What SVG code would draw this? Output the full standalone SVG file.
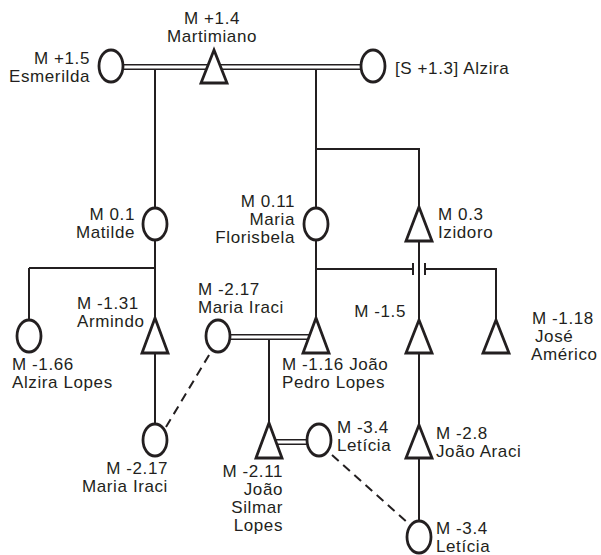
<svg xmlns="http://www.w3.org/2000/svg" width="601" height="555" viewBox="0 0 601 555">
<style>
.t{font-family:"Liberation Sans",Arial,sans-serif;font-size:17px;letter-spacing:0.6px;fill:#231f20}
.e{text-anchor:end}
.m{text-anchor:middle}
.ln{stroke:#231f20;stroke-width:2;fill:none}
.dbo{stroke:#231f20;stroke-width:6;fill:none}
.dbi{stroke:#fff;stroke-width:3;fill:none}
.dash{stroke:#231f20;stroke-width:2;fill:none;stroke-dasharray:9 6}
.nd{fill:#fff;stroke:#231f20;stroke-width:2.8;stroke-linejoin:miter}
</style>
<rect width="601" height="555" fill="#fff"/>
<g id="connectors">
<line class="dbo" x1="111" y1="67" x2="373" y2="67"/>
<line class="dbi" x1="111" y1="67" x2="373" y2="67"/>
<line class="dbo" x1="218" y1="337" x2="316" y2="337"/>
<line class="dbi" x1="218" y1="337" x2="316" y2="337"/>
<line class="dbo" x1="269" y1="442" x2="319" y2="442"/>
<line class="dbi" x1="269" y1="442" x2="319" y2="442"/>
<path class="ln" d="M155 69.5V208M316 69.5V208M316 149H419V207M155 240V318M29 268H155M29 268V320M155 353V424M316 240V318M316 269H413M413 263V275M425 263V275M425 269H496V320M419 241V320M419 353V425M419 458V521M269 339.5V423"/>
<line class="dash" x1="166" y1="427" x2="212" y2="350"/>
<line class="dash" x1="332" y1="455" x2="409" y2="524"/>
</g>
<g id="esmerilda"><ellipse class="nd" cx="111" cy="66" rx="12" ry="16"/><text class="t e" x="90" y="64">M +1.5</text><text class="t e" x="90" y="82">Esmerilda</text></g>
<g id="martimiano"><polygon class="nd" points="214,50 227,83 201,83"/><text class="t m" x="212" y="24">M +1.4</text><text class="t m" x="212" y="42">Martimiano</text></g>
<g id="alzira"><ellipse class="nd" cx="373" cy="66" rx="12" ry="16"/><text class="t" x="395" y="74">[S +1.3] Alzira</text></g>
<g id="matilde"><ellipse class="nd" cx="155" cy="224" rx="12" ry="16"/><text class="t e" x="135" y="220">M 0.1</text><text class="t e" x="135" y="238">Matilde</text></g>
<g id="maria-florisbela"><ellipse class="nd" cx="316" cy="224" rx="12" ry="16"/><text class="t e" x="295" y="207">M 0.11</text><text class="t e" x="295" y="225">Maria</text><text class="t e" x="295" y="243">Florisbela</text></g>
<g id="izidoro"><polygon class="nd" points="419,207 432,241 406,241"/><text class="t" x="438" y="220">M 0.3</text><text class="t" x="438" y="238">Izidoro</text></g>
<g id="alzira-lopes"><ellipse class="nd" cx="29" cy="336" rx="12" ry="16"/><text class="t" x="12" y="370">M -1.66</text><text class="t" x="12" y="388">Alzira Lopes</text></g>
<g id="armindo"><polygon class="nd" points="155,318 168,353 142,353"/><text class="t" x="77" y="309">M -1.31</text><text class="t" x="77" y="327">Armindo</text></g>
<g id="maria-iraci-1"><ellipse class="nd" cx="218" cy="336" rx="12" ry="16"/><text class="t" x="198" y="295">M -2.17</text><text class="t" x="198" y="313">Maria Iraci</text></g>
<g id="joao-pedro-lopes"><polygon class="nd" points="316,318 329,353 303,353"/><text class="t" x="282" y="370">M -1.16 João</text><text class="t" x="282" y="388">Pedro Lopes</text></g>
<g id="m-1-5"><polygon class="nd" points="419,320 432,353 406,353"/><text class="t e" x="406" y="317">M -1.5</text></g>
<g id="jose-americo"><polygon class="nd" points="496,320 509,353 483,353"/><text class="t" x="532" y="324">M -1.18</text><text class="t" x="535" y="342">José</text><text class="t" x="531" y="360">Américo</text></g>
<g id="maria-iraci-2"><ellipse class="nd" cx="155" cy="440" rx="12" ry="16"/><text class="t e" x="168" y="474">M -2.17</text><text class="t e" x="168" y="492">Maria Iraci</text></g>
<g id="joao-silmar-lopes"><polygon class="nd" points="269,423 282,458 256,458"/><text class="t e" x="283" y="477">M -2.11</text><text class="t e" x="283" y="495">João</text><text class="t e" x="283" y="513">Silmar</text><text class="t e" x="283" y="531">Lopes</text></g>
<g id="leticia-1"><ellipse class="nd" cx="319" cy="440" rx="12" ry="16"/><text class="t" x="337" y="433">M -3.4</text><text class="t" x="337" y="451">Letícia</text></g>
<g id="joao-araci"><polygon class="nd" points="419,425 432,458 406,458"/><text class="t" x="436" y="439">M -2.8</text><text class="t" x="436" y="457">João Araci</text></g>
<g id="leticia-2"><ellipse class="nd" cx="419" cy="537" rx="12" ry="16"/><text class="t" x="436" y="534">M -3.4</text><text class="t" x="436" y="552">Letícia</text></g>
</svg>
